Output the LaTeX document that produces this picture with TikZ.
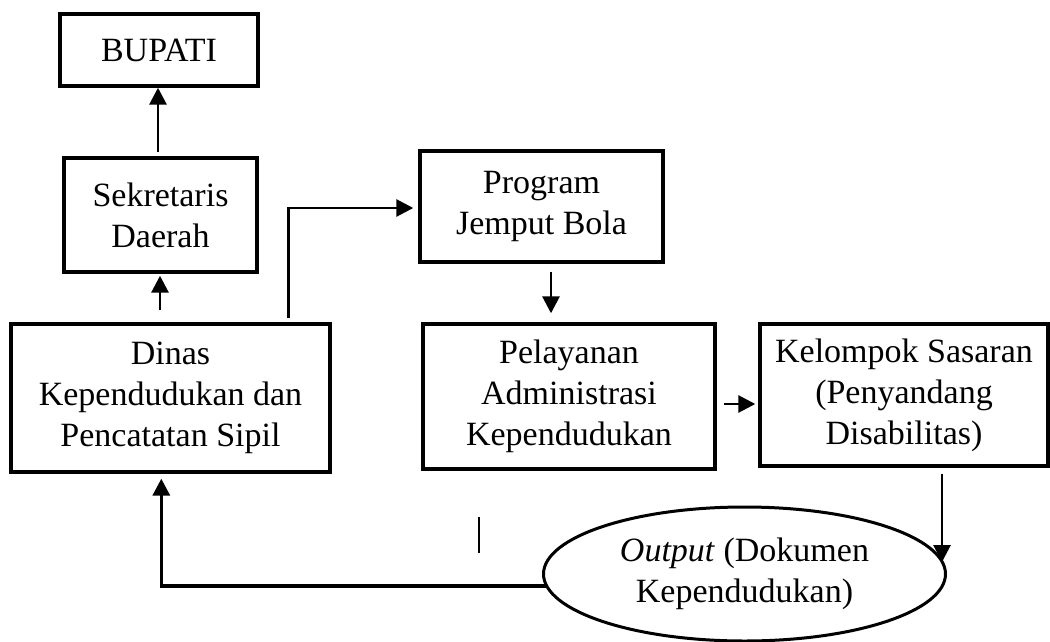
\documentclass[tikz,border=0pt]{standalone}
\usepackage{fontspec}
\setmainfont{Liberation Serif}
\usetikzlibrary{arrows.meta,shapes.geometric,calc}
\begin{document}
\begin{tikzpicture}[x=1pt,y=-1pt,
  box/.style={draw, line width=3.4pt, inner sep=0pt, align=center,
    font=\fontsize{34}{41}\selectfont},
  arr/.style={line width=2.8pt, -{Triangle[length=17pt,width=17pt]}},
  conn/.style={line width=3.4pt}]
\useasboundingbox (0,0) rectangle (1050,641);
\node[box, minimum width=198pt, minimum height=72pt] (bupati) at (159,50) {BUPATI};
\node[box, minimum width=193pt, minimum height=114pt] (sek) at (160.5,215) {Sekretaris\\Daerah};
\node[box, minimum width=319pt, minimum height=148pt] (dinas) at (170.5,398) {Dinas\\Kependudukan dan\\Pencatatan Sipil};
\node[box, minimum width=243pt, minimum height=111pt] (program) at (541.5,206.5) {Program\\Jemput Bola};
\node[box, minimum width=292pt, minimum height=145pt] (pel) at (569,396.5) {Pelayanan\\Administrasi\\Kependudukan};
\node[box, minimum width=288pt, minimum height=142pt] (kel) at (904,395) {Kelompok Sasaran\\(Penyandang\\Disabilitas)};
\node[ellipse, draw, line width=3pt, inner sep=0pt, minimum width=402pt, minimum height=134pt, align=center,
  font=\fontsize{34}{41}\selectfont] (ell) at (744.5,574) {\textit{Output} (Dokumen\\Kependudukan)};
% helper coordinates derived from nodes
\path (bupati.south) ++(-1,0) coordinate (bS);
\path (sek.south) ++(-0.5,0) coordinate (sS);
\path (dinas.north east) ++(-43,0) coordinate (dN);
\path (program.west) ++(0,1.5) coordinate (pW);
\path (program.south) ++(9.5,0) coordinate (prS);
\path (pel.east) ++(0,7.5) coordinate (plE);
\path (dinas.south west) ++(152,0) coordinate (dS);
\coordinate (kx) at (942,562);
\coordinate (ex) at (546,586);
\coordinate (s1) at (479,517);
\coordinate (s2) at (479,553);
% connectors
\draw[arr, shorten <=4pt] (bS |- sek.north) -- (bS);
\draw[arr, shorten <=12pt, shorten >=2pt] (sS |- dinas.north) -- (sS);
\draw[arr, shorten <=4pt, shorten >=5pt] (dN) |- (pW);
\draw[arr, shorten <=8pt, shorten >=9pt] (prS) -- (prS |- pel.north);
\draw[arr, shorten <=7pt, shorten >=3pt] (plE) -- (plE -| kel.west);
\draw[arr, shorten <=6pt] (kel.south -| kx) -- (kx);
\draw[conn, -{Triangle[length=17pt,width=17pt]}, shorten >=5pt] (ex) -| (dS);
\draw[line width=1.2pt] (s1) -- (s2);
\end{tikzpicture}
\end{document}
